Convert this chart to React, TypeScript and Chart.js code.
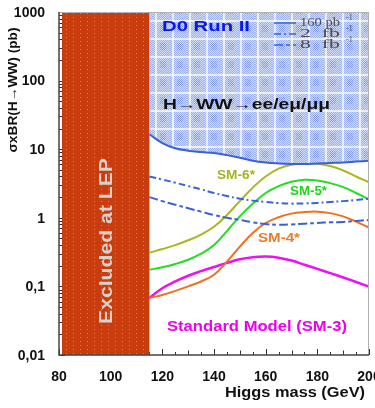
import { useEffect, useRef } from 'react';
import { Chart, registerables } from 'chart.js';

Chart.register(...registerables);

// Higgs mass grid (GeV)
const MASS = [115, 120, 125, 130, 135, 140, 145, 150, 155, 160, 165, 170, 175, 180, 185, 190, 195, 200];

// Expected D0 Run II limits, sigma x BR(H->WW) in pb
const LIMIT_160PB = [16.5, 12.3, 10.3, 9.5, 9.1, 8.8, 8.2, 7.5, 6.8, 6.4, 6.2, 6.1, 6.1, 6.2, 6.3, 6.4, 6.6, 6.8];
const LIMIT_2FB = [4.0, 3.6, 3.25, 2.9, 2.6, 2.3, 2.08, 1.9, 1.78, 1.7, 1.64, 1.61, 1.62, 1.65, 1.7, 1.75, 1.82, 1.9];
const LIMIT_8FB = [2.0, 1.75, 1.55, 1.38, 1.23, 1.1, 1.0, 0.93, 0.86, 0.81, 0.79, 0.8, 0.82, 0.84, 0.86, 0.87, 0.9, 0.93];

// Model predictions (pb)
const SM6 = [0.31, 0.35, 0.4, 0.47, 0.57, 0.74, 1.1, 1.75, 2.75, 4.0, 5.2, 5.95, 6.2, 6.15, 5.7, 4.9, 4.0, 3.3];
const SM5 = [0.175, 0.19, 0.212, 0.245, 0.3, 0.4, 0.64, 1.05, 1.6, 2.3, 2.9, 3.35, 3.58, 3.5, 3.2, 2.8, 2.3, 1.85];
const SM4 = [0.068, 0.075, 0.086, 0.1, 0.118, 0.148, 0.23, 0.38, 0.6, 0.84, 1.02, 1.15, 1.21, 1.23, 1.17, 1.05, 0.88, 0.72];
const SM3 = [0.068, 0.094, 0.118, 0.143, 0.167, 0.192, 0.22, 0.248, 0.266, 0.272, 0.262, 0.238, 0.207, 0.18, 0.156, 0.135, 0.116, 0.099];

// Region excluded by LEP (GeV)
const LEP_MIN = 80;
const LEP_MAX = 115;

// Axis ticks
const X_TICKS = [80, 100, 120, 140, 160, 180, 200];
const Y_TICKS = [0.01, 0.1, 1, 10, 100, 1000];
const Y_TICK_LABELS = ['0,01', '0,1', '1', '10', '100', '1000'];

const LEGEND_LABELS = [
  { text: '160 pb', exp: '-1' },
  { text: '2  fb', exp: '-1' },
  { text: '8  fb', exp: '-1' },
];

const SANS = '"Liberation Sans", Arial, sans-serif';
const SERIF = '"Liberation Serif", "Times New Roman", serif';
const BLUE = '#3a62d8';

function toPoints(ys: number[]) {
  return MASS.map((m, i) => ({ x: m, y: ys[i] }));
}

function drawText(
  ctx: CanvasRenderingContext2D,
  s: string,
  x: number,
  y: number,
  font: string,
  color: string,
  width?: number,
  align: CanvasTextAlign = 'left',
  rot = 0
) {
  ctx.save();
  ctx.translate(x, y);
  if (rot) ctx.rotate(rot);
  ctx.font = font;
  const m = ctx.measureText(s).width;
  const sx = width ? width / m : 1;
  ctx.scale(sx, 1);
  ctx.fillStyle = color;
  ctx.textAlign = align;
  ctx.textBaseline = 'middle';
  ctx.fillText(s, 0, 0);
  ctx.restore();
}

function makeBluePattern(ctx: CanvasRenderingContext2D) {
  const c = document.createElement('canvas');
  c.width = 17;
  c.height = 18;
  const p = c.getContext('2d')!;
  p.fillStyle = '#cfdbf7';
  p.fillRect(0, 0, 17, 18);
  for (let y = 0; y < 18; y++) {
    for (let x = 0; x < 17; x++) {
      if ((x + y) % 2 === 0) {
        const inner = x >= 7 && x <= 12 && y >= 7 && y <= 13;
        p.fillStyle = inner ? '#7d95e2' : '#9db1ec';
        p.fillRect(x, y, 1, 1);
      }
    }
  }
  p.fillStyle = 'rgba(255,255,255,0.7)';
  p.fillRect(2, 0, 2, 18);
  p.fillRect(0, 2, 17, 2);
  return ctx.createPattern(c, 'repeat')!;
}

function makeRedPattern(ctx: CanvasRenderingContext2D) {
  const c = document.createElement('canvas');
  c.width = 7;
  c.height = 4;
  const p = c.getContext('2d')!;
  p.fillStyle = '#c93c0e';
  p.fillRect(0, 0, 7, 4);
  p.fillStyle = 'rgba(240,150,100,0.7)';
  p.fillRect(3, 1, 1, 1);
  return ctx.createPattern(c, 'repeat')!;
}

function line(label: string, ys: number[], color: string, width: number, dash: number[] = []) {
  return {
    label,
    data: toPoints(ys),
    borderColor: color,
    borderWidth: width,
    borderDash: dash,
    fill: false,
    tension: 0.4,
    pointRadius: 0,
  };
}

export default function App() {
  const ref = useRef<HTMLCanvasElement>(null);

  useEffect(() => {
    document.body.style.margin = '0';
    const canvas = ref.current!;
    const ctx = canvas.getContext('2d')!;
    const bluePattern = makeBluePattern(ctx);
    const redPattern = makeRedPattern(ctx);

    const decor = {
      id: 'decor',
      beforeDatasetsDraw(chart: any) {
        const c = chart.ctx as CanvasRenderingContext2D;
        const { left, right, top, bottom } = chart.chartArea;
        const xs = chart.scales.x;
        const ys = chart.scales.y;
        c.save();
        c.fillStyle = '#fff';
        c.fillRect(left, top, right - left, bottom - top);

        // inward tick marks
        c.strokeStyle = '#333';
        c.lineWidth = 1;
        for (let d = -2; d <= 2; d++) {
          for (let k = 1; k <= 9; k++) {
            const v = k * Math.pow(10, d);
            const py = Math.round(ys.getPixelForValue(v)) + 0.5;
            const len = k === 1 ? 6 : 3.5;
            c.beginPath();
            c.moveTo(left, py);
            c.lineTo(left + len, py);
            c.stroke();
          }
        }
        for (let m = 80; m <= 200; m += 5) {
          const px = Math.round(xs.getPixelForValue(m)) + 0.5;
          const len = m % 20 === 0 ? 6 : m % 10 === 0 ? 4.5 : 3;
          c.beginPath();
          c.moveTo(px, bottom);
          c.lineTo(px, bottom - len);
          c.stroke();
        }

        // LEP exclusion band
        const x0 = xs.getPixelForValue(LEP_MIN) + 3;
        const x1 = xs.getPixelForValue(LEP_MAX);
        c.fillStyle = redPattern;
        c.fillRect(x0, top + 1, x1 - x0, bottom - top - 1);
        drawText(c, 'Excluded at LEP', (x0 + x1) / 2 + 1, 241, `bold 18px ${SANS}`, '#d9d1cc', 166, 'center', -Math.PI / 2);
        c.restore();
      },
      afterDatasetsDraw(chart: any) {
        const c = chart.ctx as CanvasRenderingContext2D;
        const { left, right, top, bottom } = chart.chartArea;
        const xs = chart.scales.x;
        const ys = chart.scales.y;
        c.save();

        // frame
        c.strokeStyle = '#b0b0b0';
        c.lineWidth = 1;
        c.beginPath();
        c.moveTo(left, top + 0.5);
        c.lineTo(right - 0.5, top + 0.5);
        c.lineTo(right - 0.5, bottom);
        c.stroke();
        c.strokeStyle = '#444';
        c.lineWidth = 1.5;
        c.beginPath();
        c.moveTo(left, top);
        c.lineTo(left, bottom);
        c.lineTo(right, bottom);
        c.stroke();

        // tick labels
        Y_TICKS.forEach((v, i) => {
          drawText(c, Y_TICK_LABELS[i], 45, ys.getPixelForValue(v) + 1, `bold 14px ${SANS}`, '#111', undefined, 'right');
        });
        X_TICKS.forEach((v) => {
          drawText(c, String(v), xs.getPixelForValue(v), 377, `bold 14px ${SANS}`, '#111', undefined, 'center');
        });

        // axis titles
        drawText(c, 'Higgs mass (GeV)', 225, 393, `bold 15px ${SANS}`, '#111', 140, 'left');
        drawText(c, 'σxBR(H→WW) (pb)', 13, 90, `bold 13px ${SANS}`, '#111', 125, 'center', -Math.PI / 2);

        // annotations
        drawText(c, 'D0 Run II', 162, 27, `bold 15px ${SANS}`, '#0a18e8', 88, 'left');
        drawText(c, 'H→WW→ee/eμ/μμ', 163, 105, `bold 14px ${SANS}`, '#111', 167, 'left');
        drawText(c, 'SM-6*', 217, 175, `bold 13.5px ${SANS}`, '#a4b41c', 38, 'left');
        drawText(c, 'SM-5*', 290, 191, `bold 13.5px ${SANS}`, '#1ed41e', 37, 'left');
        drawText(c, 'SM-4*', 258, 238, `bold 13.5px ${SANS}`, '#f07a2a', 42, 'left');
        drawText(c, 'Standard Model (SM-3)', 167, 327, `bold 15px ${SANS}`, '#ee00ee', 180, 'left');

        // luminosity key
        const dashes = [[], [7, 3, 2, 3], [9, 3, 4, 3]];
        const rowsY = [23, 34, 45];
        LEGEND_LABELS.forEach((lab, i) => {
          const y = rowsY[i];
          c.strokeStyle = BLUE;
          c.lineWidth = 1.5;
          c.setLineDash(dashes[i]);
          c.beginPath();
          c.moveTo(274, y);
          c.lineTo(296, y);
          c.stroke();
          c.setLineDash([]);
          drawText(c, lab.text, 300, y, `12px ${SERIF}`, '#4a4a55', 40, 'left');
          drawText(c, lab.exp, 346, y - 5, `8px ${SERIF}`, '#4a4a55', undefined, 'left');
        });
        c.restore();
      },
    };

    const chart = new Chart(ctx, {
      type: 'line',
      data: {
        datasets: [
          { ...line('160 pb-1', LIMIT_160PB, BLUE, 2), backgroundColor: bluePattern, fill: 'end' },
          line('2 fb-1', LIMIT_2FB, BLUE, 2, [7, 3, 2, 3]),
          line('8 fb-1', LIMIT_8FB, BLUE, 2, [9, 3, 4, 3]),
          line('SM-6*', SM6, '#a8b820', 2),
          line('SM-5*', SM5, '#22dd22', 2),
          line('SM-4*', SM4, '#f07020', 2),
          line('Standard Model (SM-3)', SM3, '#ee10ee', 2.5),
        ],
      },
      options: {
        animation: false,
        responsive: false,
        devicePixelRatio: 1,
        layout: { padding: { left: 0, right: 6, top: 12, bottom: 0 } },
        plugins: { legend: { display: false }, tooltip: { enabled: false } },
        scales: {
          x: {
            type: 'linear',
            min: 80,
            max: 200,
            grid: { display: false, drawTicks: false },
            border: { display: false },
            ticks: { display: false },
            afterFit: (s: any) => {
              s.height = 53;
            },
          },
          y: {
            type: 'logarithmic',
            min: 0.01,
            max: 1000,
            grid: { display: false, drawTicks: false },
            border: { display: false },
            ticks: { display: false },
            afterFit: (s: any) => {
              s.width = 59;
            },
          },
        },
      },
      plugins: [decor],
    } as any);

    return () => chart.destroy();
  }, []);

  return <canvas ref={ref} width={375} height={408} style={{ display: 'block', width: 375, height: 408 }} />;
}
